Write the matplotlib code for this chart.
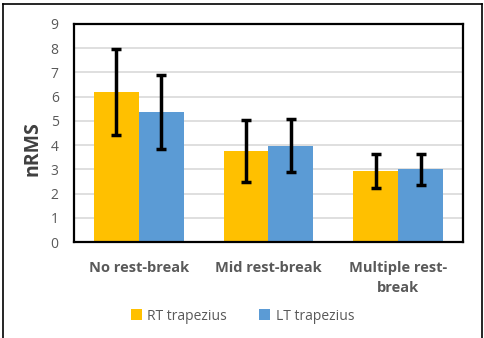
import matplotlib
matplotlib.use("Agg")
import matplotlib.pyplot as plt
import numpy as np
from matplotlib.lines import Line2D

categories = ["No rest-break", "Mid rest-break", "Multiple rest-\nbreak"]
rt_vals = [6.2, 3.76, 2.95]
rt_err = [1.77, 1.27, 0.7]
lt_vals = [5.37, 3.97, 3.0]
lt_err = [1.53, 1.1, 0.63]
series_names = ["RT trapezius", "LT trapezius"]

plt.rcParams['font.family'] = ['Open Sans', 'DejaVu Sans']

fig = plt.figure(figsize=(4.85, 3.38), dpi=100)
ax = fig.add_axes([0.1526, 0.284, 0.802, 0.645])

x = np.arange(len(categories))
w = 0.347
ekw = dict(elinewidth=2.5, capthick=2.5, capsize=3.5, ecolor="black")
ax.bar(x - w / 2, rt_vals, w, color="#FFC000", yerr=rt_err, error_kw=ekw,
       label=series_names[0], zorder=2)
ax.bar(x + w / 2, lt_vals, w, color="#5B9BD5", yerr=lt_err, error_kw=ekw,
       label=series_names[1], zorder=2)

ax.set_xlim(-0.5, 2.5)
ax.set_ylim(0, 9)
ax.set_yticks(range(10))
ax.yaxis.grid(True, color="#D9D9D9", linewidth=1.2, zorder=0)
ax.set_axisbelow(True)
for s in ax.spines.values():
    s.set_linewidth(1.6)
    s.set_color("black")

ax.tick_params(axis="y", length=0, pad=11, labelsize=10, labelcolor="#595959")
ax.tick_params(axis="x", length=0, pad=14, labelsize=10.5, labelcolor="#595959")
ax.set_xticks(x)
ax.set_xticklabels(categories, fontweight="bold", linespacing=1.5)
ax.set_ylabel("nRMS", fontsize=14, fontweight="bold", color="#404040")
ax.yaxis.set_label_coords(-0.082, 0.43)

leg = fig.legend(loc="center", bbox_to_anchor=(0.5, 0.065), ncol=2, frameon=False,
                 fontsize=10, handlelength=0.8, handleheight=0.8, columnspacing=2.3,
                 handletextpad=0.4)
for t in leg.get_texts():
    t.set_color("#595959")

# outer chart border
fig.add_artist(Line2D([0.006, 0.006], [0.0, 0.988], color="black", lw=1.2, transform=fig.transFigure))
fig.add_artist(Line2D([0.006, 0.994], [0.988, 0.988], color="black", lw=1.2, transform=fig.transFigure))
fig.add_artist(Line2D([0.994, 0.994], [0.0, 0.988], color="black", lw=1.2, transform=fig.transFigure))

fig.savefig("out.png", dpi=100)
